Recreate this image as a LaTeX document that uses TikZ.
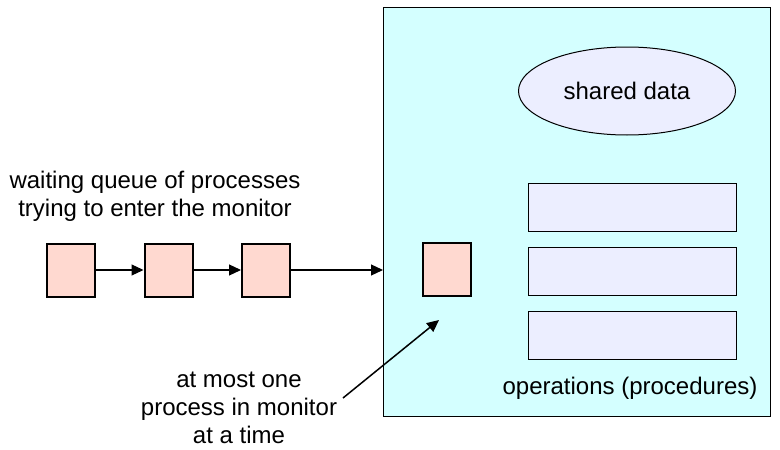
\documentclass[tikz,border=0pt]{standalone}
\usepackage{fontspec}
\setmainfont{Liberation Sans}
\usetikzlibrary{arrows.meta}
\usetikzlibrary{shapes.geometric}
\definecolor{procpink}{RGB}{255, 217, 208}
\definecolor{lavender}{RGB}{236, 238, 255}
\definecolor{monitorcyan}{RGB}{212, 255, 255}
\tikzset{proc/.style = {draw, line width = 2, fill = procpink, inner sep = 0, minimum width = 48, minimum height = 53}}
\tikzset{oper/.style = {draw, line width = 1, fill = lavender, inner sep = 0, minimum width = 208, minimum height = 48}}
\tikzset{lbl/.style = {font = \fontsize{24}{28}\selectfont, align = center, inner sep = 0}}

\begin{document}
\begin{tikzpicture}[x = 1pt, y = -1pt, >= {Triangle[length = 12, width = 11]}]
      \useasboundingbox (0, 0) rectangle (780, 450);

      % the monitor
      \node [draw, line width = 1.2, fill = monitorcyan, inner sep = 0, minimum width = 387, minimum height = 409, anchor = north west] (monitor) at (383, 7) {};
      \node [draw, ellipse, line width = 1, fill = lavender, minimum width = 217, minimum height = 88, lbl] (shared) at (627, 91) {shared data};

      \foreach \y/\n in {207/op1, 271/op2, 335/op3} {
        \node [oper] (\n) at (632, \y) {};
      }
      \node [lbl] (opslabel) at (630, 388) {operations (procedures)};

      % queue of waiting processes
      \foreach \x [count = \i] in {71, 168.5, 266} {
        \node [proc] (q\i) at (\x, 270) {};
      }
      \node [proc] (inside) at (447, 269) {};

      \draw [->, line width = 1.2] (q1) -- (q2);
      \draw [->, line width = 1.2] (q2) -- (q3);
      \draw [->, line width = 1.2] (q3) -- (q3 -| monitor.west);

      \node [lbl] (queuelabel) at (155, 196) {waiting queue of processes\\trying to enter the monitor};
      \node [lbl] (onelabel) at (239, 408) {at most one\\process in monitor\\at a time};

      \coordinate (tail) at (343, 398);
      \coordinate (tip) at (439, 320);
      \draw [->, line width = 1.5] (tail) -- (tip);
    \end{tikzpicture}
\end{document}
